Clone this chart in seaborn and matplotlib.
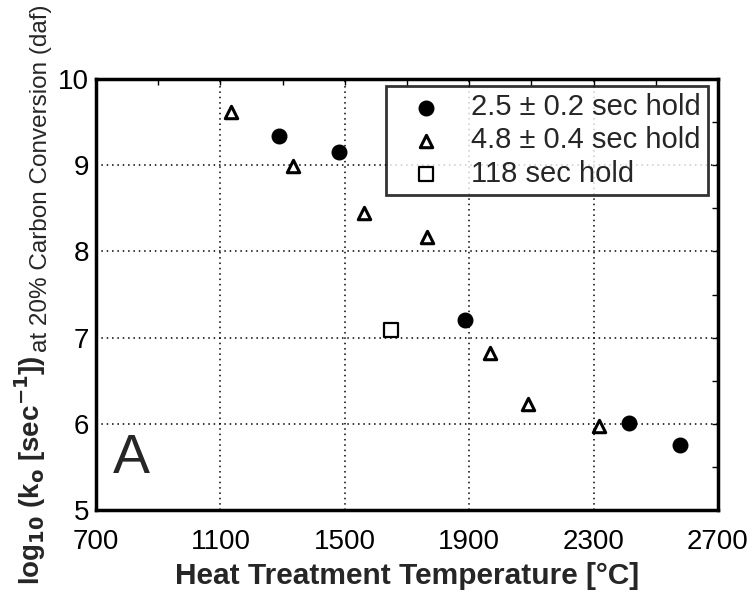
import pandas as pd
import seaborn as sns
import matplotlib.pyplot as plt

sns.set_theme(style="white")
plt.rcParams['font.family'] = ['Liberation Sans', 'DejaVu Sans']

# data
temp_25 = [1289, 1482, 1886, 2415, 2577]
logk_25 = [9.34, 9.15, 7.21, 6.01, 5.75]
temp_48 = [1135, 1334, 1563, 1763, 1967, 2089, 2318]
logk_48 = [9.62, 8.99, 8.45, 8.17, 6.82, 6.23, 5.98]
temp_118 = [1649]
logk_118 = [7.09]
labels = ["2.5 \u00b1 0.2 sec hold", "4.8 \u00b1 0.4 sec hold", "118 sec hold"]

df = pd.concat([
    pd.DataFrame({"T": temp_25, "logk": logk_25, "hold": labels[0]}),
    pd.DataFrame({"T": temp_48, "logk": logk_48, "hold": labels[1]}),
    pd.DataFrame({"T": temp_118, "logk": logk_118, "hold": labels[2]}),
])

fig = plt.figure(figsize=(7.52, 5.92), dpi=100)
ax = fig.add_axes([0.1277, 0.1385, 0.827, 0.728])

styles = {
    labels[0]: dict(marker="o", s=110, facecolor="black", edgecolor="black", linewidth=1),
    labels[1]: dict(marker="^", s=80, facecolor="white", edgecolor="black", linewidth=2.2),
    labels[2]: dict(marker="s", s=95, facecolor="white", edgecolor="black", linewidth=1.6),
}
for lab in labels:
    sns.scatterplot(data=df[df["hold"] == lab], x="T", y="logk", ax=ax,
                    label=lab, zorder=3, **styles[lab])

ax.set_xlim(700, 2700)
ax.set_ylim(5, 10)
ax.set_xticks([700, 1100, 1500, 1900, 2300, 2700])
ax.set_yticks([5, 6, 7, 8, 9, 10])
ax.set_xticks([900, 1300, 1700, 2100, 2500], minor=True)
ax.set_yticks([5.5, 6.5, 7.5, 8.5, 9.5], minor=True)
ax.grid(True, which="major", color="black", linestyle=(0, (1, 2.5)), linewidth=1.1)
ax.tick_params(which="both", direction="in", top=True, right=True,
               length=4, width=1, labelsize=20, pad=5, colors="black")
ax.tick_params(axis="x", pad=14)
for sp in ax.spines.values():
    sp.set_linewidth(2.5)
    sp.set_color("black")

ax.set_xlabel("Heat Treatment Temperature [\u00b0C]", fontsize=21.5,
              fontweight="bold", labelpad=5)
ax.set_ylabel("")

# two-part y label: bold main part, smaller trailing text
fig.text(0.04, 0.012, r"log$_{\mathbf{10}}$ (k$_{\mathbf{o}}$ [sec$^{\mathbf{-1}}$])",
         rotation=90, fontsize=20, fontweight="bold", ha="center", va="bottom")
fig.text(0.055, 0.405, "at 20% Carbon Conversion (daf)",
         rotation=90, fontsize=17.5, ha="center", va="bottom")

ax.text(0.027, 0.058, "A", transform=ax.transAxes, fontsize=40,
        ha="left", va="bottom")

leg = ax.legend(loc="upper right", bbox_to_anchor=(0.984, 0.984), fontsize=21,
                frameon=True, fancybox=False, edgecolor="black",
                handletextpad=0.45, borderpad=0.25, labelspacing=0.18,
                handlelength=2.2, borderaxespad=0)
leg.get_frame().set_linewidth(2)

fig.savefig("out.png", dpi=100)
